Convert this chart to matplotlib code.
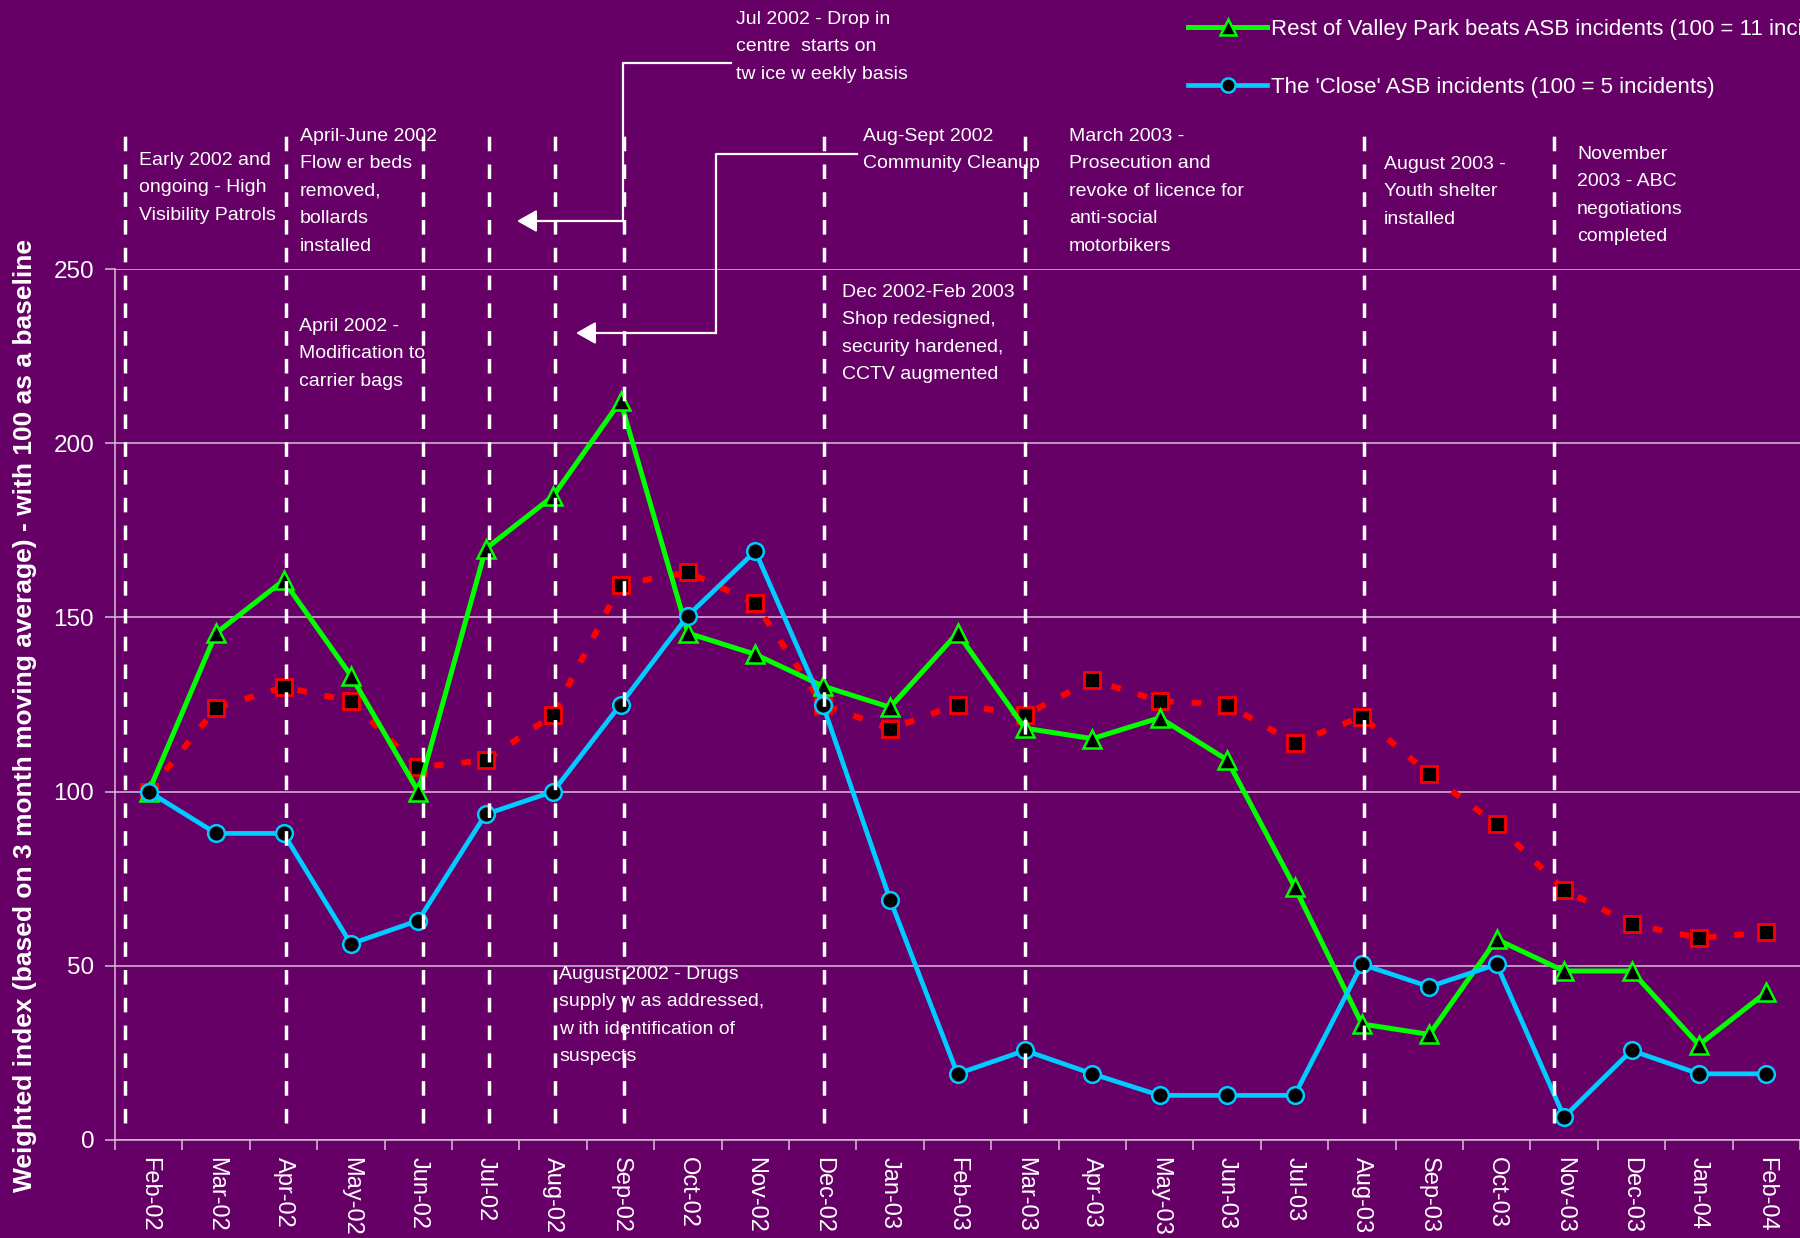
import matplotlib
matplotlib.use("Agg")
import matplotlib.pyplot as plt
from matplotlib.lines import Line2D

plt.rcParams['font.family'] = ['Liberation Sans', 'DejaVu Sans']

# data (3 month moving average, 100 = baseline)
months = ['Feb-02', 'Mar-02', 'Apr-02', 'May-02', 'Jun-02', 'Jul-02', 'Aug-02',
          'Sep-02', 'Oct-02', 'Nov-02', 'Dec-02', 'Jan-03', 'Feb-03', 'Mar-03',
          'Apr-03', 'May-03', 'Jun-03', 'Jul-03', 'Aug-03', 'Sep-03', 'Oct-03',
          'Nov-03', 'Dec-03', 'Jan-04', 'Feb-04']
rest_valley_park = [100, 145.5, 160.6, 133.3, 100, 169.7, 184.8, 212.1, 145.5, 139.4,
                    130.3, 124.2, 145.5, 118.2, 115.2, 121.2, 109.1, 72.7, 33.3, 30.3,
                    57.6, 48.5, 48.5, 27.3, 42.4]
the_close = [100, 88, 88, 56.3, 63, 93.5, 100, 125, 150.5, 169, 125, 69, 19, 25.7,
             19, 12.8, 12.8, 12.8, 50.4, 44, 50.4, 6.6, 25.7, 19, 19]
average_line = [100, 124, 130, 126, 107, 109, 122, 159.4, 163, 154, 125, 118, 125, 122,
                132, 126, 125, 114, 121.5, 105, 90.6, 71.8, 62, 58, 59.6]

legend_labels = ["Rest of Valley Park beats ASB incidents (100 = 11 incidents)",
                 "The 'Close' ASB incidents (100 = 5 incidents)"]
ylabel = "Weighted index (based on 3 month moving average) - with 100 as a baseline"

# event markers (month index where each dashed line sits)
event_x = [-0.35, 2.03, 4.07, 5.05, 6.03, 7.05, 10.02, 13.0, 18.03, 20.85]

bg = '#660066'
W, H = 1800, 1238


def fx(px):
    return px / W


def fy(py):
    return 1 - py / H


fig = plt.figure(figsize=(18, 12.38), dpi=100, facecolor=bg)
ax = fig.add_axes([fx(115), fy(1140), fx(1800) - fx(115), fy(269) - fy(1140)])
ax.set_facecolor(bg)

x = list(range(len(months)))

# series
ax.plot(x, average_line, color='#ff0000', lw=4.3, dashes=(1.6, 3.0),
        marker='s', ms=12, mfc='black', mec='#ff0000', mew=2, zorder=3)
green, = ax.plot(x, rest_valley_park, color='#00ff00', lw=3.6,
                 marker='^', ms=13, mfc='black', mec='#00ff00', mew=1.8, zorder=4)
blue, = ax.plot(x, the_close, color='#00ccff', lw=3.4,
                marker='o', ms=12, mfc='black', mec='#00ccff', mew=1.8, zorder=5)

# dashed event lines (drawn over the series)
for ex in event_x:
    ax.plot([ex, ex], [4.9, 288.5], color='white', lw=2.5, dashes=(4.2, 3.8),
            clip_on=False, zorder=10)

ax.set_xlim(-0.5, len(months) - 0.5)
ax.set_ylim(0, 250)
ax.set_yticks([0, 50, 100, 150, 200, 250])
ax.yaxis.grid(True, color='#d9bcd9', lw=1.1)
ax.set_axisbelow(True)

ax.set_xticks(x)
ax.set_xticklabels(months, rotation=270, fontsize=17, color='white')
ax.set_xticks([i + 0.5 for i in range(-1, len(months))], minor=True)
ax.tick_params(axis='x', which='major', length=0, pad=12)
ax.tick_params(axis='x', which='minor', length=7, color='#d9bcd9', width=1.1)
ax.tick_params(axis='y', length=7, color='#d9bcd9', width=1.1, labelsize=17.5,
               labelcolor='white', pad=8)

for s in ['top', 'right']:
    ax.spines[s].set_visible(False)
for s in ['left', 'bottom']:
    ax.spines[s].set_color('#d9bcd9')
    ax.spines[s].set_linewidth(1.1)

fig.text(fx(25), fy(716), ylabel, rotation=90, ha='center', va='center',
         fontsize=19, fontweight='bold', color='white')

# legend
fig.legend([green, blue], legend_labels, loc='upper left',
           bbox_to_anchor=(fx(1188), fy(19)), frameon=False, fontsize=16,
           labelcolor='white', handlelength=3.56, handletextpad=0.18,
           borderpad=0, borderaxespad=0, labelspacing=1.65, markerscale=0.85)

# annotations
notes = [
    (139, 152, "Early 2002 and\nongoing - High\nVisibility Patrols"),
    (300, 128, "April-June 2002\nFlow er beds\nremoved,\nbollards\ninstalled"),
    (299, 318, "April 2002 -\nModification to\ncarrier bags"),
    (736, 11, "Jul 2002 - Drop in\ncentre  starts on\ntw ice w eekly basis"),
    (863, 128, "Aug-Sept 2002\nCommunity Cleanup"),
    (842, 284, "Dec 2002-Feb 2003\nShop redesigned,\nsecurity hardened,\nCCTV augmented"),
    (1069, 128, "March 2003 -\nProsecution and\nrevoke of licence for\nanti-social\nmotorbikers"),
    (1384, 156, "August 2003 -\nYouth shelter\ninstalled"),
    (1577, 146, "November\n2003 - ABC\nnegotiations\ncompleted"),
    (559, 966, "August 2002 - Drugs\nsupply w as addressed,\nw ith identification of\nsuspects"),
]
for px, py, txt in notes:
    fig.text(fx(px), fy(py), txt, ha='left', va='top', fontsize=14,
             color='white', linespacing=1.8, zorder=2)

# elbow connectors with arrowheads
connectors = [
    [(731, 63), (623, 63), (623, 221)],
    [(857, 154), (716, 154), (716, 333)],
]
tips = [(517, 221), (576, 333)]
for path, tip in zip(connectors, tips):
    fig.add_artist(Line2D([fx(p[0]) for p in path], [fy(p[1]) for p in path],
                          color='white', lw=1.6, transform=fig.transFigure))
    start = path[-1]
    ax.annotate('', xy=(fx(tip[0]), fy(tip[1])), xytext=(fx(start[0]), fy(start[1])),
                xycoords='figure fraction', textcoords='figure fraction',
                arrowprops=dict(arrowstyle='-|>,head_length=0.6,head_width=0.34',
                                color='white', lw=1.6, shrinkA=0, shrinkB=0,
                                mutation_scale=20))

fig.savefig('out.png', dpi=100, facecolor=bg)
